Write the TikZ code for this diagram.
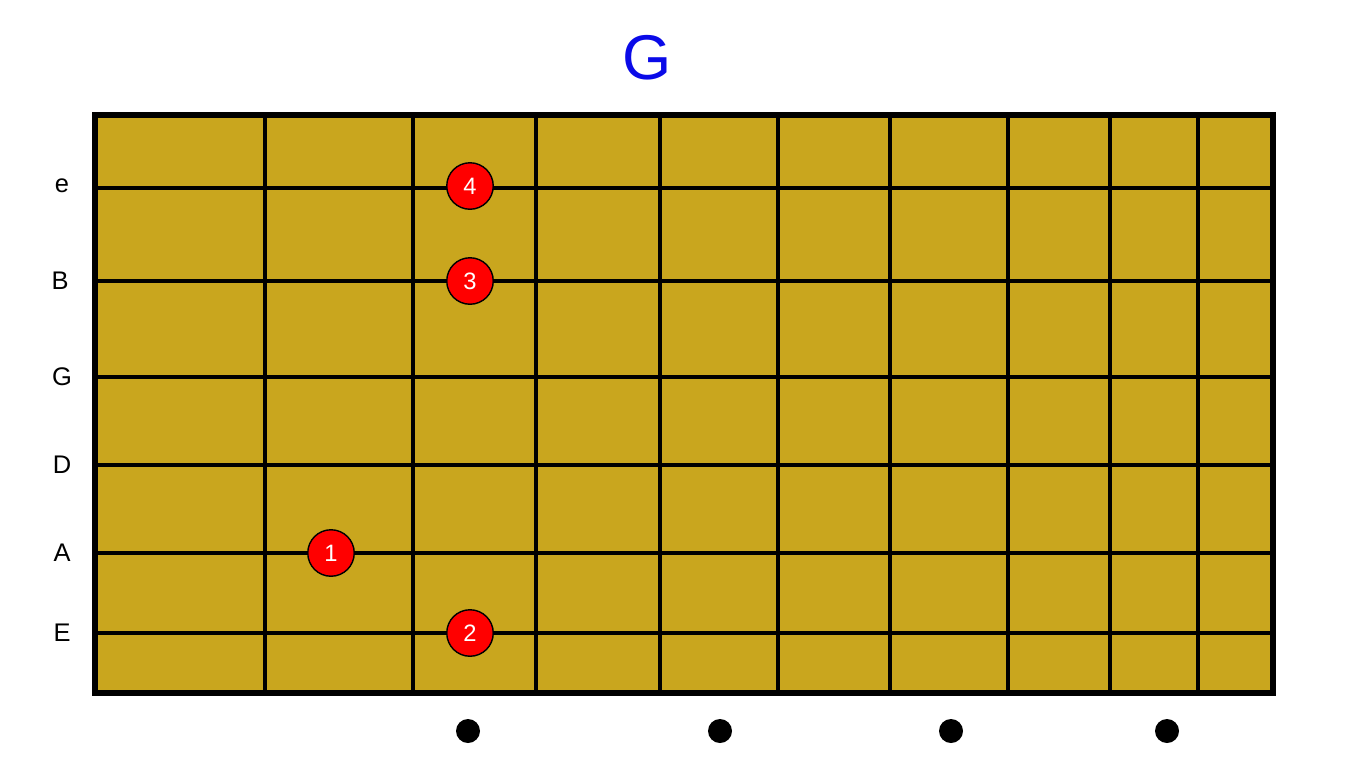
\documentclass[tikz,border=0pt]{standalone}
\usepackage{fontspec}
\setmainfont{Liberation Sans}
\usetikzlibrary{positioning}
\definecolor{braco}{HTML}{C9A61E}
\definecolor{titulo}{HTML}{0A0AE8}
\definecolor{dedo}{HTML}{FF0000}

\begin{document}
\begin{tikzpicture}[
  x=0.02cm, y=-0.02cm,
  corda/.style={line width=1.8pt, draw=black},
  traste/.style={line width=2pt, draw=black},
  rotulo/.style={font=\fontsize{14.5}{16}\selectfont, anchor=center},
  dedo/.style={circle, draw=black, line width=0.8pt, fill=dedo, minimum size=0.93cm, inner sep=0pt, text=white, font=\fontsize{13.5}{15}\selectfont},
  marca/.style={circle, fill=black, minimum size=0.48cm, inner sep=0pt}]
\useasboundingbox (0,0) rectangle (1366,768);
% ---- titulo
\node[font=\fontsize{36}{40}\selectfont, text=titulo] (acorde) at (647,58) {G};
% ---- braco
\fill[braco] (95,115) rectangle (1273,693);
\foreach \y in {188,281,377,465,553,633}
  \draw[corda] (95,\y) -- (1273,\y);
\foreach \x in {265,413,536,660,778,890,1008,1110,1198}
  \draw[traste] (\x,115) -- (\x,693);
\draw[line width=3pt] (95,115) rectangle (1273,693);
% ---- nomes das cordas
\node[rotulo] (se) at (62,186) {e};
\node[rotulo] (sB) at (60,281) {B};
\node[rotulo] (sG) at (62,377) {G};
\node[rotulo] (sD) at (62,465) {D};
\node[rotulo] (sA) at (62,553) {A};
\node[rotulo] (sE) at (62,633) {E};
% ---- dedos
\node[dedo] (d4) at (470,186) {4};
\node[dedo] (d3) at (470,281) {3};
\node[dedo] (d1) at (331,553) {1};
\node[dedo] (d2) at (470,633) {2};
% ---- marcacoes
\node[marca] (m3) at (468,731) {};
\node[marca] (m5) at (720,731) {};
\node[marca] (m7) at (951,731) {};
\node[marca] (m9) at (1167,731) {};
\end{tikzpicture}
\end{document}
